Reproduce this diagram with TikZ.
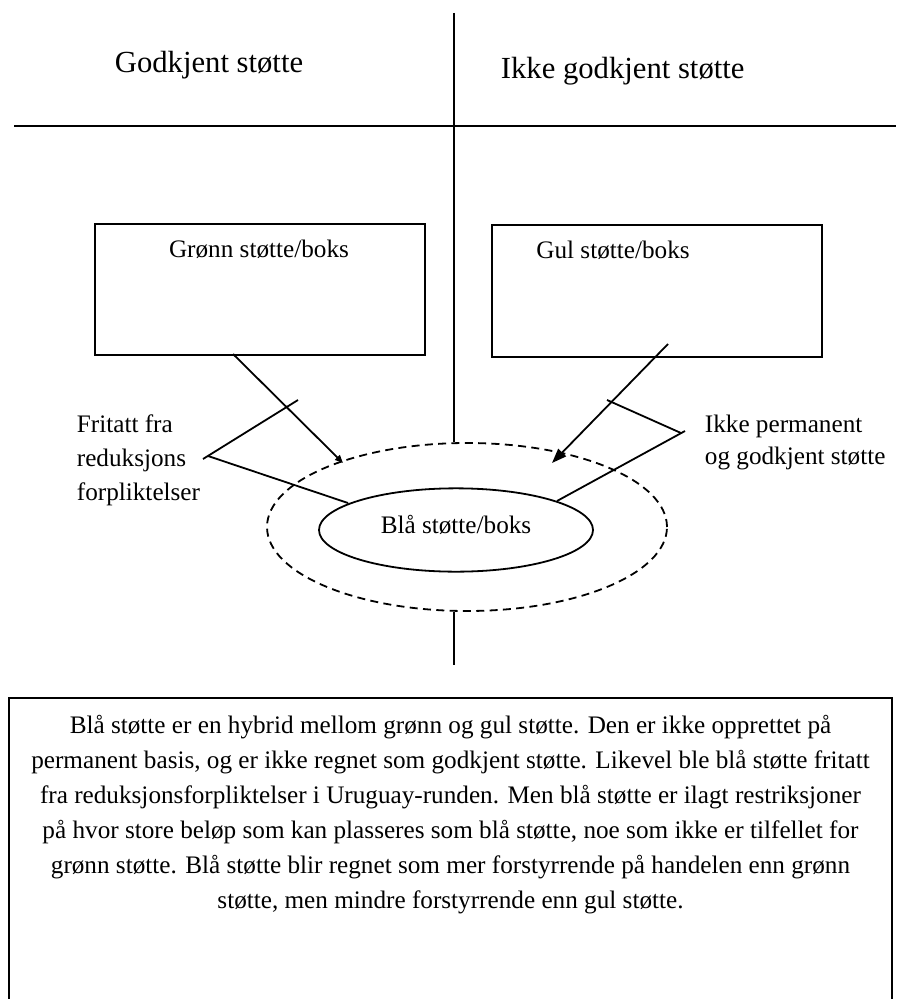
\documentclass[tikz,border=0pt]{standalone}
\usepackage{fontspec}
\setmainfont{Liberation Serif}
\usetikzlibrary{arrows.meta,shapes.geometric}
\begin{document}
\begin{tikzpicture}[x=0.75pt,y=-0.75pt,line width=1.35pt,
  lbl/.style={font=\fontsize{18.9}{26}\selectfont,inner sep=0pt},
  hdr/.style={font=\fontsize{23}{28}\selectfont,inner sep=0pt,anchor=base west},
  boxst/.style={draw,inner sep=0pt,anchor=north west},
  dsh/.style={dash pattern=on 6pt off 4pt}]
\useasboundingbox (0,0) rectangle (896,999);

% dividers
\coordinate (vtop) at (454,13);
\coordinate (vbot) at (454,665);
\coordinate (hl) at (14,126);
\coordinate (hr) at (896,126);
\draw (hl) -- (hr);

% headers
\node[hdr] (hleft) at (114,73) {Godkjent støtte};
\node[hdr] (hright) at (500,79) {Ikke godkjent støtte};

% boxes
\node[boxst,minimum width=247.5pt,minimum height=98.25pt] (green) at (94,223) {};
\node[boxst,minimum width=247.5pt,minimum height=99pt] (yellow) at (491,224) {};
\node[lbl,anchor=base] (greent) at (259,257) {Grønn støtte/boks};
\node[lbl,anchor=base] (yellowt) at (613,258) {Gul støtte/boks};

% ellipses
\node[draw,dsh,ellipse,inner sep=0pt,minimum width=300pt,minimum height=126pt] (outer) at (467,527) {};
\node[draw,ellipse,inner sep=0pt,minimum width=205.5pt,minimum height=62.5pt] (blue) at (456,530) {};
\node[lbl,anchor=base] (bluet) at (456,533) {Blå støtte/boks};

\draw (vtop) -- (vtop |- outer.north);
\draw (vbot |- outer.south) -- (vbot);

% arrows
\coordinate (la0) at (233,354);
\coordinate (la1) at (343,463);
\coordinate (ra0) at (668,344);
\coordinate (ra1) at (552,463);
\draw[-{Triangle[length=6pt,width=5pt]}] (la0) -- (la1);
\draw[-{Triangle[length=11pt,width=8pt]}] (ra0) -- (ra1);

% left bracket
\coordinate (lv) at (208,456);
\coordinate (lvx) at (203,459);
\coordinate (lu) at (298,400);
\coordinate (ll) at (348,503);
\draw (lu) -- (lvx);
\draw (lv) -- (ll);
% right bracket
\coordinate (rv) at (681,433);
\coordinate (rvx) at (685,431);
\coordinate (ru) at (607,400);
\coordinate (rl) at (557,501);
\draw (ru) -- (rv);
\draw (rvx) -- (rl);

% side labels
\node[lbl,anchor=base west,align=left,font=\fontsize{18.9}{25.5}\selectfont] (lefttxt) at (76,500) {Fritatt fra\\reduksjons\\forpliktelser};
\node[lbl,anchor=base west,align=left,font=\fontsize{18.9}{24}\selectfont] (righttxt) at (704,464) {Ikke permanent\\og godkjent støtte};

% bottom box
\coordinate (bl) at (9,1010);
\coordinate (br) at (892,1010);
\draw (bl) -- (9,698) -- (892,698) -- (br);
\node[lbl,anchor=base,align=center,font=\fontsize{18.9}{26.25}\selectfont] (body) at (450.5,908) {Blå støtte er en hybrid mellom grønn og gul støtte. Den er ikke opprettet på\\
permanent basis, og er ikke regnet som godkjent støtte. Likevel ble blå støtte fritatt\\
fra reduksjonsforpliktelser i Uruguay-runden. Men blå støtte er ilagt restriksjoner\\
på hvor store beløp som kan plasseres som blå støtte, noe som ikke er tilfellet for\\
grønn støtte. Blå støtte blir regnet som mer forstyrrende på handelen enn grønn\\
støtte, men mindre forstyrrende enn gul støtte.};
\end{tikzpicture}
\end{document}
